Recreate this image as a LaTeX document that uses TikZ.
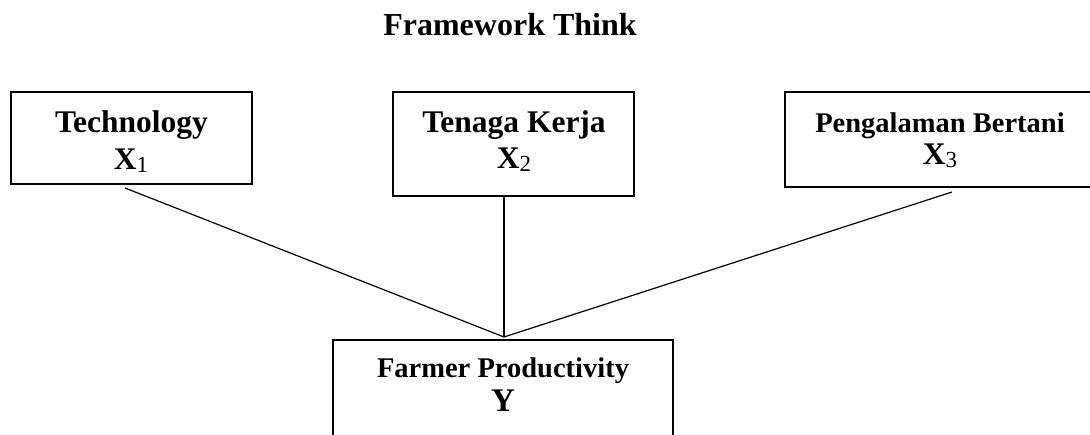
\documentclass[tikz,border=0pt]{standalone}
\usepackage{fontspec}
\setmainfont{Liberation Serif}
\newcommand{\bigtxt}{\fontsize{31.5}{36}\bfseries\selectfont}
\newcommand{\midtxt}{\fontsize{28.5}{33}\bfseries\selectfont}
\newcommand{\subdig}[1]{\raisebox{-2.5pt}{\fontsize{23}{26}\mdseries\selectfont #1}}
\begin{document}
\begin{tikzpicture}[x=1pt,y=-1pt,
  box/.style={draw, line width=1.3pt, inner sep=0pt},
  lbl/.style={anchor=base, inner sep=0pt},
  link/.style={line width=1.2pt}]
\useasboundingbox (0,0) rectangle (1090,435);
\clip (0,0) rectangle (1090,435);
% title
\node[lbl, font=\fontsize{32}{38}\bfseries\selectfont] (title) at (510,36) {Framework Think};
% boxes
\draw[box] (11,92) rectangle (252,184);
\draw[box] (393,92) rectangle (634,196);
\draw[box] (785,92) rectangle (1100,187);
\draw[box] (333,340) rectangle (673,470);
% labels
\node[lbl, font=\bigtxt] (t1) at (131.5,133) {Technology};
\node[lbl, font=\bigtxt] (x1) at (131,170) {X\subdig{1}};
\node[lbl, font=\bigtxt] (t2) at (514,133) {Tenaga Kerja};
\node[lbl, font=\bigtxt] (x2) at (514,169) {X\subdig{2}};
\node[lbl, font=\midtxt] (t3) at (940,133) {Pengalaman Bertani};
\node[lbl, font=\bigtxt] (x3) at (940,165) {X\subdig{3}};
\node[lbl, font=\midtxt] (ty) at (503,378) {Farmer Productivity};
\node[lbl, font=\fontsize{33}{38}\bfseries\selectfont] (y) at (503,412) {Y};
% connectors
\coordinate (s1) at (125,188);
\coordinate (s2) at (504,196);
\coordinate (s3) at (952,192);
\coordinate (j) at (504,337);
\draw[link] (s1) -- (j);
\draw[link] (s2) -- (j);
\draw[link] (s3) -- (j);
\end{tikzpicture}
\end{document}
